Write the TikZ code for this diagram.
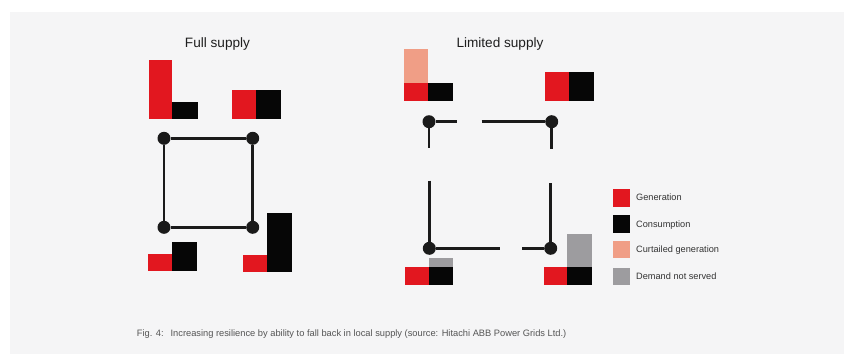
\documentclass[tikz,border=0pt]{standalone}
\usepackage{fontspec}
\setmainfont{Liberation Sans}
\definecolor{bgpanel}{HTML}{F5F5F6}
\definecolor{genred}{HTML}{E2171F}
\definecolor{conblack}{HTML}{060606}
\definecolor{curtail}{HTML}{F09E86}
\definecolor{unserved}{HTML}{9D9C9F}
\definecolor{netcol}{HTML}{1A1A1A}
\definecolor{captext}{HTML}{555555}
\tikzset{
  dot/.style={circle, fill=netcol, inner sep=0pt, minimum size=13pt},
  net/.style={draw=netcol, line width=2.6pt},
  gen/.style={fill=genred},
  con/.style={fill=conblack},
  cur/.style={fill=curtail},
  uns/.style={fill=unserved},
  title/.style={font=\fontsize{13.6}{16}\selectfont, text=black!88, anchor=base, inner sep=0pt},
  legtext/.style={font=\fontsize{9.2}{11}\selectfont, text=black!80, anchor=base west, inner sep=0pt},
  legbox/.style={inner sep=0pt, minimum width=17.7pt, minimum height=17.5pt, anchor=north west},
}
\begin{document}
\begin{tikzpicture}[x=1pt,y=-1pt]
\useasboundingbox (0,0) rectangle (844,354);
\fill[white] (0,0) rectangle (844,354);
\fill[bgpanel] (10,12) rectangle (844,354);

% titles
\node[title] (t1) at (217.5,47.5) {Full supply};
\node[title] (t2) at (500,47.5) {Limited supply};

% ---------- Full supply ----------
\fill[gen] (149.3,60) rectangle (172.3,119.3);
\fill[con] (172.3,101.7) rectangle (198.3,119.3);

\fill[gen] (232.3,90) rectangle (255.7,119.3);
\fill[con] (255.7,90) rectangle (281,119.3);

\fill[gen] (148.3,254) rectangle (171.7,270.5);
\fill[con] (171.7,241.7) rectangle (196.7,270.5);

\fill[gen] (243.3,255.3) rectangle (266.7,271.7);
\fill[con] (266.7,212.7) rectangle (292.3,271.7);

\node[dot] (f1) at (164,138.3) {};
\node[dot] (f2) at (252.7,138.3) {};
\node[dot] (f3) at (164,227.3) {};
\node[dot] (f4) at (252.7,227.3) {};
\draw[net] (f1) -- (f2) -- (f4) -- (f3) -- (f1);

% ---------- Limited supply ----------
\fill[cur] (404,49.3) rectangle (427.7,82.7);
\fill[gen] (404,82.7) rectangle (427.7,100.7);
\fill[con] (427.7,83.3) rectangle (453.3,100.7);

\fill[gen] (545,71.7) rectangle (569,100.7);
\fill[con] (569,71.7) rectangle (594,100.7);

\fill[uns] (429,257.7) rectangle (453.3,267.3);
\fill[gen] (405,267.3) rectangle (429,285);
\fill[con] (429,267.3) rectangle (453.3,285);

\fill[uns] (567.3,234) rectangle (592.3,267.3);
\fill[gen] (544,267.3) rectangle (567.3,285);
\fill[con] (567.3,267.3) rectangle (592.3,285);

\node[dot] (l1) at (429,121.7) {};
\node[dot] (l2) at (551.7,121.7) {};
\node[dot] (l3) at (429.3,248.3) {};
\node[dot] (l4) at (550.7,248.3) {};

\coordinate (a1) at (456.7,121.7);
\coordinate (a2) at (429,148.3);
\coordinate (b1) at (481.7,121.7);
\coordinate (b2) at (551.7,149);
\coordinate (c1) at (429.3,180.7);
\coordinate (c2) at (500,248.3);
\coordinate (d1) at (550.7,183.3);
\coordinate (d2) at (522.3,248.3);

\draw[net] (l1) -- (a1);
\draw[net] (l1) -- (a2);
\draw[net] (b1) -- (l2);
\draw[net] (l2) -- (b2);
\draw[net] (c1) -- (l3);
\draw[net] (l3) -- (c2);
\draw[net] (d1) -- (l4);
\draw[net] (d2) -- (l4);

% ---------- Legend ----------
\node[legbox, fill=genred] (k1) at (612.3,189) {};
\node[legbox, fill=conblack] (k2) at (612.3,215.2) {};
\node[legbox, fill=curtail] (k3) at (612.3,240.7) {};
\node[legbox, fill=unserved] (k4) at (612.3,267.3) {};
\node[legtext] (e1) at (636,200.6) {Generation};
\node[legtext] (e2) at (636,227.3) {Consumption};
\node[legtext] (e3) at (636,252.3) {Curtailed generation};
\node[legtext] (e4) at (636,279.3) {Demand not served};

% ---------- Caption ----------
\node[font=\fontsize{9.3}{11}\selectfont, text=captext, anchor=base west, inner sep=0pt] (cap) at (136.7,336.6)
  {Fig. 4:\hspace{7pt}Increasing resilience by ability to fall back in local supply (source: Hitachi ABB Power Grids Ltd.)};
\end{tikzpicture}
\end{document}
